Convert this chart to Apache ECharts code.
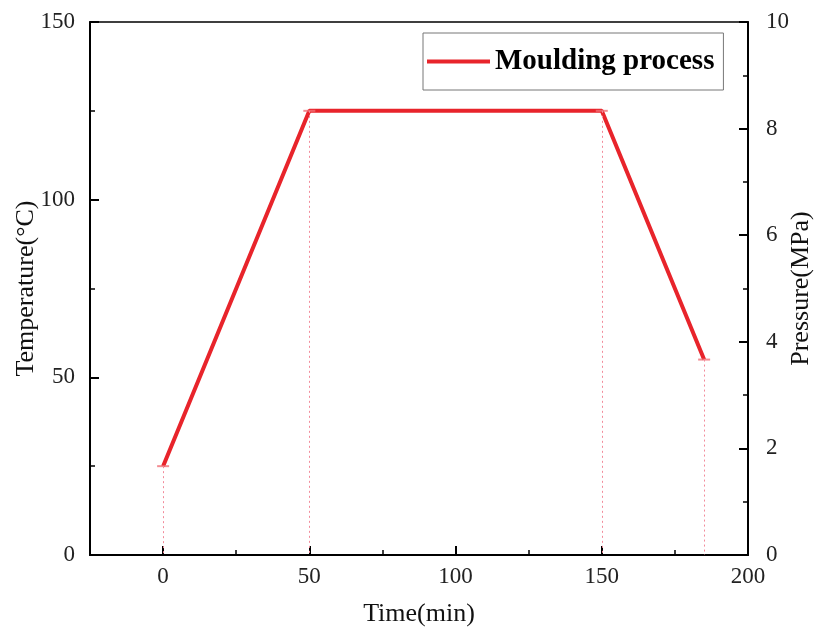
<!DOCTYPE html>
<html>
<head>
<meta charset="utf-8">
<script src="https://cdn.jsdelivr.net/npm/echarts@6/dist/echarts.min.js"></script>
<style>
  html, body { margin: 0; padding: 0; background: #fff; }
  #chart { width: 814px; height: 634px; }
</style>
</head>
<body>
<div id="chart"></div>
<script>
// ── Data ───────────────────────────────────────────────
const timeMin   = [0, 50, 150, 185];
const tempC     = [25, 125, 125, 55];
const xTicks    = [0, 50, 100, 150, 200];
const seriesName = 'Moulding process';

// ── Style ──────────────────────────────────────────────
const FONT = "'Liberation Serif', 'Times New Roman', serif";
const RED  = '#E8242B';
const PINK = '#F28A9A';

const chart = echarts.init(document.getElementById('chart'));

const points = timeMin.map((x, i) => [x, tempC[i]]);
const drops  = timeMin.map((x, i) => [{ coord: [x, tempC[i]] }, { coord: [x, 0] }]);

const labelStyle = { fontFamily: FONT, fontSize: 23, color: '#222' };
const nameStyle  = { fontFamily: FONT, fontSize: 26, color: '#111' };

chart.setOption({
  backgroundColor: '#fff',
  animation: false,
  grid: {
    left: 90, right: 66, top: 22, bottom: 79,
    containLabel: false,
    outerBoundsMode: 'none',
    show: true, borderColor: '#000', borderWidth: 1.5,
  },
  legend: {
    left: 423, top: 33,
    padding: [14, 9, 14, 4],
    borderColor: '#777', borderWidth: 1,
    icon: 'rect',
    itemWidth: 63, itemHeight: 4,
    itemGap: 6,
    textStyle: { fontFamily: FONT, fontSize: 29, fontWeight: 'bold', color: '#000' },
    data: [seriesName],
  },
  xAxis: [{
    type: 'value',
    min: -25, max: 200,
    position: 'bottom',
    name: 'Time(min)',
    nameLocation: 'middle',
    nameGap: 46,
    nameMoveOverlap: false,
    nameTextStyle: nameStyle,
    splitLine: { show: false },
    axisLine: { onZero: false, lineStyle: { color: '#000', width: 2 } },
    axisTick: { inside: true, length: 9, customValues: xTicks, lineStyle: { color: '#000', width: 2 } },
    axisLabel: { customValues: xTicks, margin: 10, ...labelStyle },
  }, {
    type: 'value',
    min: -25, max: 200, interval: 25,
    position: 'bottom',
    splitLine: { show: false },
    axisLine: { show: false, onZero: false },
    axisLabel: { show: false },
    axisTick: { inside: true, length: 5, lineStyle: { color: '#000', width: 1.5 } },
  }],
  yAxis: [{
    type: 'value',
    min: 0, max: 150, interval: 50,
    position: 'left',
    name: 'Temperature(°C)',
    nameLocation: 'middle',
    nameGap: 51,
    nameMoveOverlap: false,
    nameTextStyle: nameStyle,
    splitLine: { show: false },
    axisLine: { show: true, onZero: false, lineStyle: { color: '#000', width: 2 } },
    axisTick: { inside: true, length: 9, lineStyle: { color: '#000', width: 2 } },
    minorTick: { show: true, splitNumber: 2, length: 5, lineStyle: { color: '#000', width: 1.5 } },
    axisLabel: { margin: 15, ...labelStyle },
  }, {
    type: 'value',
    min: 0, max: 10, interval: 2,
    position: 'right',
    name: 'Pressure(MPa)',
    nameLocation: 'middle',
    nameGap: 40,
    nameRotate: 90,
    nameMoveOverlap: false,
    nameTextStyle: nameStyle,
    splitLine: { show: false },
    axisLine: { show: true, onZero: false, lineStyle: { color: '#000', width: 2 } },
    axisTick: { inside: true, length: 9, lineStyle: { color: '#000', width: 2 } },
    minorTick: { show: true, splitNumber: 2, length: 5, lineStyle: { color: '#000', width: 1.5 } },
    axisLabel: { margin: 18, ...labelStyle },
  }],
  series: [{
    name: seriesName,
    type: 'line',
    data: points,
    symbol: 'none',
    lineStyle: { color: RED, width: 4 },
    itemStyle: { color: RED },
    z: 3,
    markLine: {
      silent: true,
      symbol: 'none',
      label: { show: false },
      lineStyle: { color: PINK, type: [2, 3], width: 1 },
      data: drops,
    },
  }, {
    // error-bar caps at each point
    name: 'caps',
    type: 'scatter',
    data: points,
    symbol: 'rect',
    symbolSize: [12, 2],
    itemStyle: { color: '#F07078' },
    silent: true,
    z: 4,
  }],
});
</script>
</body>
</html>
